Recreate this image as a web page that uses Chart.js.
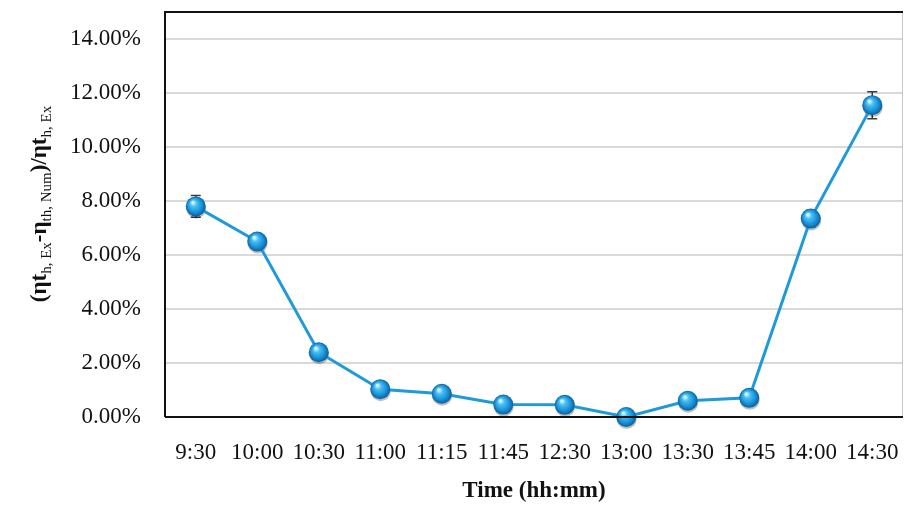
<!DOCTYPE html>
<html>
<head>
<meta charset="utf-8">
<script src="https://cdn.jsdelivr.net/npm/chart.js@4"></script>
<style>
  html, body { margin: 0; padding: 0; background: #fff; }
  #wrap { width: 904px; height: 506px; }
</style>
</head>
<body>
<div id="wrap"><canvas id="chart" width="904" height="506"></canvas></div>
<script>
var times = ['9:30', '10:00', '10:30', '11:00', '11:15', '11:45', '12:30', '13:00', '13:30', '13:45', '14:00', '14:30'];
var relError = [0.078, 0.065, 0.024, 0.0103, 0.0086, 0.0046, 0.0045, 0.0, 0.006, 0.0071, 0.0735, 0.1155];
var errBar = [0.004, 0.002, 0.0015, 0.001, 0.001, 0.001, 0.001, 0.001, 0.001, 0.001, 0.003, 0.005];
var yTicks = [0, 0.02, 0.04, 0.06, 0.08, 0.10, 0.12, 0.14];

var FONT = "'Liberation Serif', serif";

function sphere(context) {
  var chart = context.chart, el = context.element;
  if (!el || el.x === undefined) return '#1e96d8';
  var ctx = chart.ctx, x = el.x, y = el.y, r = 10;
  var g = ctx.createRadialGradient(x - 3, y - 4, 1, x, y, r);
  g.addColorStop(0, '#d2f4ff');
  g.addColorStop(0.25, '#4cc0f2');
  g.addColorStop(0.7, '#168fd6');
  g.addColorStop(1, '#0b5e9a');
  return g;
}

// error bars and marker shadows, drawn under the series
var errorBars = {
  id: 'errorBars',
  beforeDatasetsDraw: function (chart) {
    var ctx = chart.ctx, xs = chart.scales.x, ys = chart.scales.y;
    ctx.save();
    ctx.strokeStyle = '#3a3a3a';
    ctx.lineWidth = 1.5;
    relError.forEach(function (v, i) {
      var x = xs.getPixelForValue(i);
      var top = ys.getPixelForValue(v + errBar[i]);
      var bot = ys.getPixelForValue(v - errBar[i]);
      ctx.beginPath();
      ctx.moveTo(x, top); ctx.lineTo(x, bot);
      ctx.moveTo(x - 5, top); ctx.lineTo(x + 5, top);
      ctx.moveTo(x - 5, bot); ctx.lineTo(x + 5, bot);
      ctx.stroke();
    });
    ctx.fillStyle = 'rgba(0,0,0,0.25)';
    relError.forEach(function (v, i) {
      ctx.beginPath();
      ctx.arc(xs.getPixelForValue(i) + 0.5, ys.getPixelForValue(v) + 2, 10, 0, Math.PI * 2);
      ctx.fill();
    });
    ctx.restore();
  }
};

// plot frame + y title with subscripts
var decor = {
  id: 'decor',
  afterDraw: function (chart) {
    var ctx = chart.ctx, a = chart.chartArea;
    ctx.save();
    ctx.strokeStyle = '#c8c8c8';
    ctx.lineWidth = 1;
    ctx.beginPath(); ctx.moveTo(a.right - 0.5, a.top); ctx.lineTo(a.right - 0.5, a.bottom); ctx.stroke();
    ctx.strokeStyle = '#111';
    ctx.lineWidth = 2;
    ctx.beginPath();
    ctx.moveTo(a.left, a.bottom); ctx.lineTo(a.left, a.top); ctx.lineTo(a.right, a.top);
    ctx.moveTo(a.left, a.bottom); ctx.lineTo(a.right, a.bottom);
    ctx.stroke();

    var parts = [
      ['(\u03b7t', false], ['h, Ex', true], ['-\u03b7', false], ['th, Num', true],
      [')/\u03b7t', false], ['h, Ex', true]
    ];
    var big = 'bold 23px ' + FONT, small = '15px ' + FONT;
    var total = 0;
    parts.forEach(function (p) { ctx.font = p[1] ? small : big; total += ctx.measureText(p[0]).width; });
    ctx.translate(40, 204);
    ctx.rotate(-Math.PI / 2);
    ctx.fillStyle = '#111';
    ctx.textBaseline = 'middle';
    var x = -total / 2;
    parts.forEach(function (p) {
      ctx.font = p[1] ? small : big;
      ctx.fillText(p[0], x, p[1] ? 7 : 0);
      x += ctx.measureText(p[0]).width;
    });
    ctx.restore();
  }
};

new Chart(document.getElementById('chart'), {
  type: 'line',
  data: {
    labels: times,
    datasets: [{
      data: relError,
      borderColor: '#1f9ad9',
      borderWidth: 3,
      pointRadius: 10,
      pointHoverRadius: 10,
      pointBorderWidth: 0,
      pointBackgroundColor: sphere,
      tension: 0,
      clip: false
    }]
  },
  options: {
    responsive: false,
    animation: false,
    events: [],
    layout: { autoPadding: false, padding: { top: 12, right: 1, left: 0, bottom: 0 } },
    plugins: { legend: { display: false }, tooltip: { enabled: false } },
    scales: {
      x: {
        offset: true,
        grid: { display: false, drawTicks: false },
        border: { display: false },
        ticks: { padding: 22, color: '#111', font: { family: FONT, size: 23 }, maxRotation: 0, autoSkip: false },
        title: { display: true, text: 'Time (hh:mm)', color: '#111', font: { family: FONT, size: 23, weight: 'bold' }, padding: { top: 0, bottom: 1 } },
        afterFit: function (s) { s.height = 89; s.paddingLeft = 0; s.paddingRight = 0; }
      },
      y: {
        min: 0,
        max: 0.15,
        afterBuildTicks: function (s) { s.ticks = yTicks.map(function (v) { return { value: v }; }); },
        grid: { color: '#d9d9d9', lineWidth: 2, drawTicks: false },
        border: { display: false },
        ticks: {
          padding: 24, color: '#111', font: { family: FONT, size: 23 },
          callback: function (v) { return (v * 100).toFixed(2) + '%'; }
        },
        afterFit: function (s) { s.width = 165; s.paddingTop = 0; s.paddingBottom = 0; }
      }
    }
  },
  plugins: [errorBars, decor]
});
</script>
</body>
</html>
